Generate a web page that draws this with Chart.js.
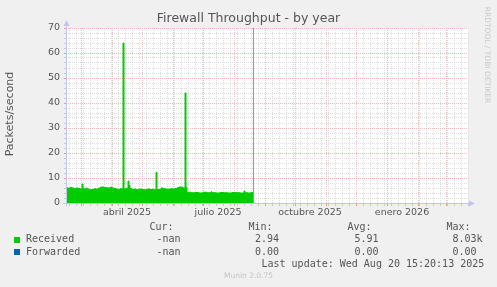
<!DOCTYPE html>
<html>
<head>
<meta charset="utf-8">
<title>Firewall Throughput - by year</title>
<script src="https://cdn.jsdelivr.net/npm/chart.js@4.4.1/dist/chart.umd.min.js"></script>
<style>
    html, body { margin: 0; padding: 0; background: #f0f0f0; }
    canvas { display: block; }
</style>
</head>
<body>
<canvas id="graficoAnual" width="497" height="287"></canvas>
<script>
// Día 0 del eje = 14 feb 2025 (un píxel por día)
const fechaInicio = '2025-02-14';
const fechaAhora = '2025-08-20';
const diasEje = 402;

// Received: día -> paquetes/segundo
const diasRecibidos = [
    0, 2, 4, 6, 8, 10, 12, 14, 16, 17,
    18, 20, 22, 24, 26, 28, 30, 32, 34, 36, 38, 40, 42, 44, 46, 48, 50, 52, 54,
    56, 57, 58, 60, 62, 63, 64,
    66, 68, 70, 72, 74, 76, 78, 80, 82, 84, 86, 88, 90, 91,
    93, 95, 97, 99, 101, 103, 105, 107, 109, 111, 113, 115, 117, 119, 120, 121,
    125, 129, 133, 137, 141, 145, 146, 150, 154, 158, 162, 166, 170, 174, 178, 179,
    182, 185, 187
];
const recibidos = [
    6.1, 5.9, 6.2, 6.0, 5.7, 6.0, 5.8, 5.6, 7.6, 5.8,
    5.6, 5.9, 5.5, 5.3, 5.4, 5.7, 5.5, 5.9, 6.3, 6.4, 6.2, 6.1, 6.0, 6.3, 6.0, 5.8, 5.6, 5.5, 5.7,
    5.6, 64, 5.6, 5.9, 8.8, 7.0, 5.8,
    5.4, 5.6, 5.3, 5.5, 5.6, 5.4, 5.3, 5.5, 5.6, 5.4, 5.5, 5.3, 12.3, 5.4,
    5.5, 6.0, 5.8, 5.6, 5.5, 5.6, 5.7, 5.6, 5.8, 6.1, 6.4, 6.3, 6.0, 44, 6.2, 4.3,
    4.1, 4.2, 4.0, 4.3, 4.1, 4.5, 4.1, 4.0, 4.2, 4.1, 4.0, 4.2, 4.1, 4.0, 4.8, 4.1,
    4.0, 4.2, 4.2
];

// Forwarded: siempre cero
const diasReenviados = [0, 187];
const reenviados = [0, 0];

// Eje X: inicio de mes (rejilla mayor), lunes (rejilla menor), etiquetas a mitad de mes
const iniciosMes = ['2025-03-01', '2025-04-01', '2025-05-01', '2025-06-01', '2025-07-01', '2025-08-01',
    '2025-09-01', '2025-10-01', '2025-11-01', '2025-12-01', '2026-01-01', '2026-02-01', '2026-03-01'];
const primerLunes = '2025-02-17';
const fechasEtiquetas = ['2025-04-16', '2025-07-16', '2025-10-16', '2026-01-16'];
const textosEtiquetas = ['abril 2025', 'julio 2025', 'octubre 2025', 'enero 2026'];

// Leyenda
const nombresSeries = ['Received', 'Forwarded'];
const coloresSeries = ['#00cc00', '#0066b3'];
const valoresCur = ['-nan', '-nan'];
const valoresMin = ['2.94', '0.00'];
const valoresAvg = ['5.91', '0.00'];
const valoresMax = ['8.03k', '0.00'];
const ultimaActualizacion = 'Last update: Wed Aug 20 15:20:13 2025';

function dia(fecha) {
    return Math.round((Date.parse(fecha) - Date.parse(fechaInicio)) / 86400000);
}

// tipos de marca del eje X
const tipoMarca = new Map();
for (let d = dia(primerLunes); d <= diasEje; d += 7) tipoMarca.set(d, 'semana');
iniciosMes.forEach(f => tipoMarca.set(dia(f), 'mes'));
const etiquetaPorDia = new Map();
fechasEtiquetas.forEach((f, i) => {
    tipoMarca.set(dia(f), 'etiqueta');
    etiquetaPorDia.set(dia(f), textosEtiquetas[i]);
});

const rojoRejilla = '#eebcbc';
const grisRejilla = '#dedede';
const colorEje = '#c4c4f0';

const decorado = {
    id: 'decorado',
    beforeDraw(chart) {
        const {ctx, chartArea: a} = chart;
        ctx.save();
        ctx.fillStyle = '#f0f0f0';
        ctx.fillRect(0, 0, chart.width, chart.height);
        ctx.fillStyle = '#ffffff';
        ctx.fillRect(a.left, a.top, a.right - a.left, a.bottom - a.top);
        ctx.restore();
    },
    afterDatasetsDraw(chart) {
        const {ctx, chartArea: a, scales} = chart;
        ctx.save();
        // línea del momento actual
        const xa = Math.round(scales.x.getPixelForValue(dia(fechaAhora))) + 0.5;
        ctx.strokeStyle = '#999999';
        ctx.lineWidth = 1;
        ctx.beginPath();
        ctx.moveTo(xa, a.top);
        ctx.lineTo(xa, a.bottom);
        ctx.stroke();

        // ejes con flechas
        const x0 = a.left + 0.5;
        const y0 = a.bottom + 0.5;
        ctx.strokeStyle = colorEje;
        ctx.beginPath();
        ctx.moveTo(x0, a.bottom + 3);
        ctx.lineTo(x0, a.top - 3);
        ctx.moveTo(a.left - 3, y0);
        ctx.lineTo(a.right + 2, y0);
        ctx.stroke();
        ctx.fillStyle = colorEje;
        ctx.beginPath();
        ctx.moveTo(x0, a.top - 8);
        ctx.lineTo(x0 - 3, a.top - 2);
        ctx.lineTo(x0 + 3, a.top - 2);
        ctx.closePath();
        ctx.fill();
        ctx.beginPath();
        ctx.moveTo(a.right + 7, y0);
        ctx.lineTo(a.right + 1, y0 - 3);
        ctx.lineTo(a.right + 1, y0 + 3);
        ctx.closePath();
        ctx.fill();
        ctx.restore();
    },
    afterDraw(chart) {
        const ctx = chart.ctx;
        ctx.save();
        ctx.textBaseline = 'middle';

        // título
        ctx.fillStyle = '#555555';
        ctx.textAlign = 'center';
        ctx.font = '12.5px "DejaVu Sans"';
        ctx.fillText('Firewall Throughput - by year', 248.5, 19);

        // título del eje Y
        ctx.save();
        ctx.translate(10, 114);
        ctx.rotate(-Math.PI / 2);
        ctx.font = '11px "DejaVu Sans"';
        ctx.fillText('Packets/second', 0, 0);
        ctx.restore();

        // marca de rrdtool
        ctx.save();
        ctx.translate(487, 55);
        ctx.rotate(Math.PI / 2);
        ctx.fillStyle = '#c8c8c8';
        ctx.font = '7.5px "DejaVu Sans"';
        ctx.fillText('RRDTOOL / TOBI OETIKER', 0, 0);
        ctx.restore();

        // leyenda
        ctx.textAlign = 'left';
        ctx.font = '10px "DejaVu Sans Mono"';
        ctx.fillStyle = '#555555';
        ctx.fillText('Cur:', 149.5, 227);
        ctx.fillText('Min:', 248.5, 227);
        ctx.fillText('Avg:', 347.5, 227);
        ctx.fillText('Max:', 446.5, 227);
        nombresSeries.forEach((nombre, i) => {
            const y = 239.5 + i * 12.5;
            ctx.fillStyle = coloresSeries[i];
            ctx.fillRect(14, Math.round(y) - 3, 6, 6);
            ctx.fillStyle = '#555555';
            ctx.fillText(nombre, 26, y);
            ctx.fillText(valoresCur[i], 156.5, y);
            ctx.fillText(valoresMin[i], 255, y);
            ctx.fillText(valoresAvg[i], 354.5, y);
            ctx.fillText(valoresMax[i], 452.5, y);
        });
        ctx.fillText(ultimaActualizacion, 261.5, 264);

        // pie
        ctx.textAlign = 'center';
        ctx.fillStyle = '#c4c4c4';
        ctx.font = '7.5px "DejaVu Sans"';
        ctx.fillText('Munin 2.0.75', 248.5, 276.5);
        ctx.restore();
    }
};

Chart.defaults.font.family = '"DejaVu Sans"';
Chart.defaults.color = '#555555';

new Chart(document.getElementById('graficoAnual'), {
    type: 'line',
    data: {
        datasets: [{
            label: nombresSeries[0],
            data: diasRecibidos.map((d, i) => ({x: d, y: recibidos[i]})),
            stepped: true,
            fill: 'origin',
            backgroundColor: coloresSeries[0],
            borderColor: coloresSeries[0],
            borderWidth: 1,
            pointRadius: 0
        }, {
            label: nombresSeries[1],
            data: diasReenviados.map((d, i) => ({x: d, y: reenviados[i]})),
            fill: false,
            borderColor: coloresSeries[1],
            borderWidth: 1,
            pointRadius: 0
        }]
    },
    options: {
        responsive: false,
        devicePixelRatio: 1,
        animation: false,
        events: [],
        layout: {padding: {top: 28, right: 29, bottom: 0, left: 0}},
        plugins: {
            legend: {display: false},
            tooltip: {enabled: false},
            title: {display: false}
        },
        scales: {
            x: {
                type: 'linear',
                min: 0,
                max: diasEje,
                afterFit: function(escala) { escala.height = 84; },
                afterBuildTicks: function(escala) {
                    escala.ticks = Array.from(tipoMarca.keys())
                        .filter(d => d >= 0 && d <= diasEje)
                        .sort((a, b) => a - b)
                        .map(d => ({value: d}));
                },
                ticks: {
                    autoSkip: false,
                    maxRotation: 0,
                    minRotation: 0,
                    padding: 1,
                    font: {size: 9.5},
                    callback: function(valor) { return etiquetaPorDia.get(valor) || ''; }
                },
                grid: {
                    tickLength: 3,
                    color: function(c) {
                        const t = tipoMarca.get(c.tick && c.tick.value);
                        return t === 'mes' ? rojoRejilla : t === 'semana' ? grisRejilla : 'rgba(0,0,0,0)';
                    },
                    tickColor: function(c) {
                        const t = tipoMarca.get(c.tick && c.tick.value);
                        return t === 'mes' ? '#e49a9a' : t === 'semana' ? '#c8c8c8' : 'rgba(0,0,0,0)';
                    }
                },
                border: {display: false, dash: [1, 1]}
            },
            y: {
                min: 0,
                max: 70,
                afterFit: function(escala) { escala.width = 66; },
                ticks: {
                    stepSize: 2,
                    autoSkip: false,
                    padding: 4,
                    font: {size: 9.5},
                    callback: function(valor) { return valor % 10 === 0 ? valor : ''; }
                },
                grid: {
                    tickLength: 2,
                    color: function(c) {
                        return c.tick && c.tick.value % 10 === 0 ? rojoRejilla : grisRejilla;
                    },
                    tickColor: function(c) {
                        return c.tick && c.tick.value % 10 === 0 ? '#e49a9a' : '#c8c8c8';
                    }
                },
                border: {display: false, dash: [1, 1]}
            }
        }
    },
    plugins: [decorado]
});
</script>
</body>
</html>
